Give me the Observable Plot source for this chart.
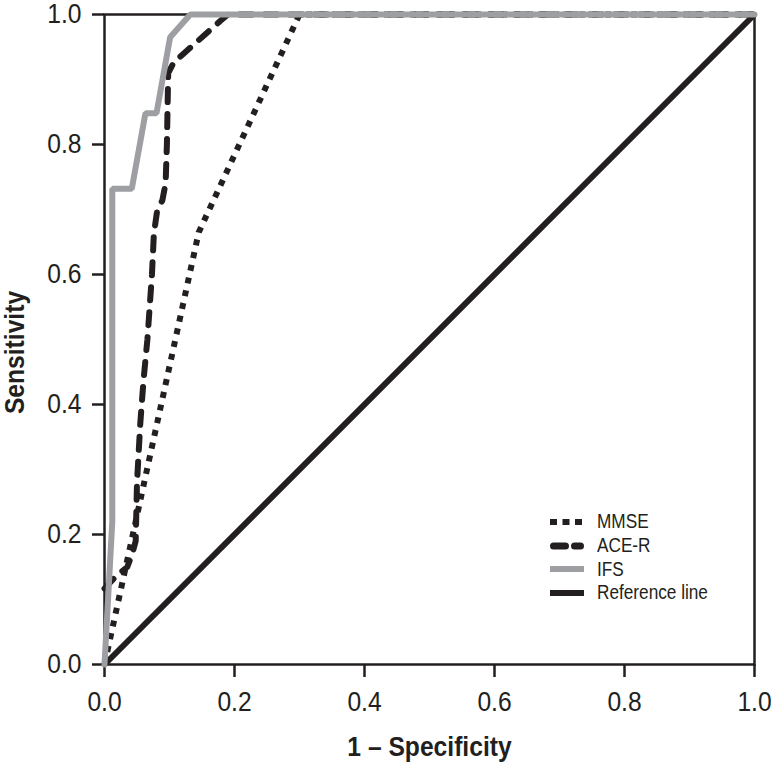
<!DOCTYPE html>
<html><head><meta charset="utf-8">
<script src="https://cdn.jsdelivr.net/npm/d3@7"></script>
<script src="https://cdn.jsdelivr.net/npm/@observablehq/plot@0.6"></script>
<style>
body{margin:0;background:#fff;}
#wrap{position:relative;width:771px;height:769px;}
.legend{position:absolute;left:549px;top:510px;font-family:"Liberation Sans",Arial,sans-serif;font-size:20px;color:#231f20;}
.row{display:flex;align-items:center;height:23.7px;}
.row svg{margin-right:12px;display:block}
.row span{display:inline-block;transform:scaleX(0.86);transform-origin:left center;white-space:nowrap}
</style></head><body><div id="wrap"></div>
<script>
const xTicks = [0, 0.2, 0.4, 0.6, 0.8, 1.0];
const yTicks = [0, 0.2, 0.4, 0.6, 0.8, 1.0];
const seriesNames = ["MMSE", "ACE-R", "IFS", "Reference line"];

const mmseFpr  = [0, 0.145, 0.300, 1.0];
const mmseSens = [0, 0.665, 1.000, 1.0];

const acerFpr  = [0, 0.019, 0.035, 0.042, 0.048, 0.050, 0.055, 0.060, 0.066, 0.073, 0.076, 0.081, 0.089, 0.094, 0.096, 0.098, 0.107, 0.122, 0.178, 0.190, 1.0];
const acerSens = [0.117, 0.137, 0.150, 0.168, 0.190, 0.280, 0.370, 0.437, 0.500, 0.600, 0.663, 0.698, 0.714, 0.740, 0.800, 0.910, 0.927, 0.940, 0.990, 1.000, 1.0];

const ifsFpr  = [0, 0.012, 0.012, 0.042, 0.063, 0.080, 0.101, 0.132, 1.0];
const ifsSens = [0, 0.220, 0.732, 0.732, 0.848, 0.848, 0.965, 1.000, 1.0];

const refFpr  = [0, 1];
const refSens = [0, 1];

const ink = "#231f20";
const grey = "#9d9fa2";
const sans = '"Liberation Sans",Arial,sans-serif';

const toRows = (name, xs, ys) => xs.map((x, i) => ({series: name, fpr: x, sens: ys[i]}));
const mmse = toRows(seriesNames[0], mmseFpr, mmseSens);
const acer = toRows(seriesNames[1], acerFpr, acerSens);
const ifs = toRows(seriesNames[2], ifsFpr, ifsSens);
const ref = toRows(seriesNames[3], refFpr, refSens);

const chart = Plot.plot({
  width: 771, height: 769,
  marginLeft: 104, marginRight: 17, marginTop: 14, marginBottom: 105,
  x: {domain: [0, 1], axis: null},
  y: {domain: [0, 1], axis: null},
  style: {fontFamily: sans, color: ink, background: "white"},
  marks: [
    Plot.frame({stroke: ink, strokeWidth: 2.5}),
    Plot.axisX(xTicks, {tickFormat: d3.format(".1f"), tickSize: 13, tickPadding: 14, fontSize: 28, strokeWidth: 2.5, label: null, stroke: ink}),
    Plot.axisY(yTicks, {tickFormat: d3.format(".1f"), tickSize: 12, tickPadding: 11, fontSize: 28, strokeWidth: 2.5, label: null, stroke: ink}),
    Plot.text(["1 \u2013 Specificity"], {frameAnchor: "bottom", dy: 91, fontSize: 28, fontWeight: "bold", fill: ink}),
    Plot.text(["Sensitivity"], {frameAnchor: "left", textAnchor: "middle", dx: -89, dy: 13, rotate: -90, fontSize: 28, fontWeight: "bold", fill: ink}),
    Plot.line(ref, {x: "fpr", y: "sens", stroke: ink, strokeWidth: 6, strokeLinecap: "butt"}),
    Plot.line(mmse, {x: "fpr", y: "sens", stroke: ink, strokeWidth: 6, strokeDasharray: "6,7", strokeLinecap: "butt"}),
    Plot.line(acer, {x: "fpr", y: "sens", stroke: ink, strokeWidth: 6, strokeDasharray: "13,12", strokeLinecap: "round", strokeLinejoin: "round"}),
    Plot.line(ifs, {x: "fpr", y: "sens", stroke: grey, strokeWidth: 6, strokeLinejoin: "miter"})
  ]
});
// condense the Helvetica-like text horizontally, as in the reference's condensed type
chart.querySelectorAll("text").forEach(t => {
  const tr = t.getAttribute("transform") || "";
  t.setAttribute("transform", tr + " scale(0.88,1)");
});
const wrap = document.getElementById("wrap");
wrap.appendChild(chart);

const legendStyles = [
  {stroke: ink, dash: "7,5.5", cap: "butt", w: 6},
  {stroke: ink, dash: "12,9", cap: "round", w: 7},
  {stroke: grey, dash: null, cap: "butt", w: 6},
  {stroke: ink, dash: null, cap: "butt", w: 6}
];
const legend = document.createElement("div");
legend.className = "legend";
seriesNames.forEach((name, i) => {
  const s = legendStyles[i];
  const row = document.createElement("div");
  row.className = "row";
  const pad = s.cap === "round" ? 3.5 : 0;
  row.innerHTML = `<svg width="36" height="10"><line x1="${1 + pad}" x2="${35 - pad}" y1="5" y2="5" stroke="${s.stroke}" stroke-width="${s.w}" ${s.dash ? `stroke-dasharray="${s.dash}"` : ""} stroke-linecap="${s.cap}"/></svg><span>${name}</span>`;
  legend.appendChild(row);
});
wrap.appendChild(legend);
</script>
</body></html>
